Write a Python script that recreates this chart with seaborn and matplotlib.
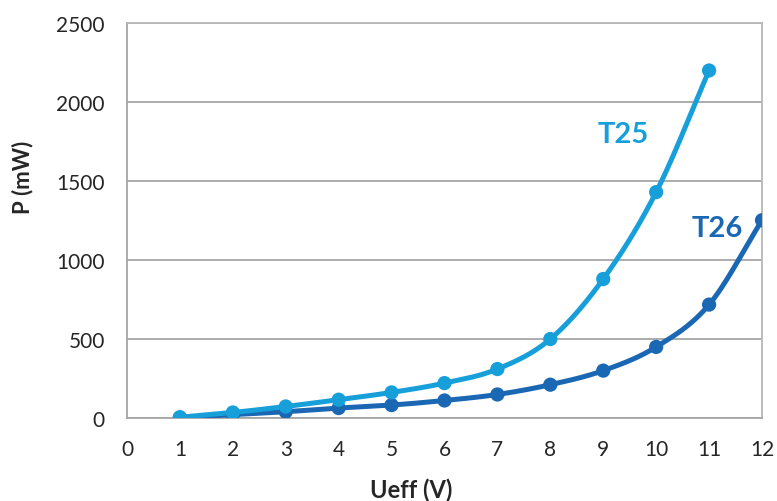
import matplotlib
matplotlib.use("Agg")
import matplotlib.pyplot as plt
import numpy as np
import pandas as pd
import seaborn as sns

# data
ueff_t25 = [1, 2, 3, 4, 5, 6, 7, 8, 9, 10, 11]
p_t25 = [5, 35, 73, 116, 162, 221, 310, 500, 880, 1430, 2200]
ueff_t26 = [1, 2, 3, 4, 5, 6, 7, 8, 9, 10, 11, 12]
p_t26 = [3, 21, 40, 63, 82, 111, 149, 211, 300, 450, 718, 1252]

c25 = "#179fda"
c26 = "#1a67b3"
grid_c = "#a6a6a6"
text_c = "#262626"


def smooth(x, y, n=30):
    # Catmull-Rom curve through the points, like Excel's smoothed line
    x = np.asarray(x, float)
    y = np.asarray(y, float)
    px = np.concatenate([[2 * x[0] - x[1]], x, [2 * x[-1] - x[-2]]])
    py = np.concatenate([[2 * y[0] - y[1]], y, [2 * y[-1] - y[-2]]])
    t = np.linspace(0, 1, n)
    xs, ys = [], []
    for i in range(1, len(px) - 2):
        for arr, out in ((px, xs), (py, ys)):
            p0, p1, p2, p3 = arr[i - 1], arr[i], arr[i + 1], arr[i + 2]
            out.append(0.5 * (2 * p1 + (-p0 + p2) * t
                              + (2 * p0 - 5 * p1 + 4 * p2 - p3) * t ** 2
                              + (-p0 + 3 * p1 - 3 * p2 + p3) * t ** 3))
    return np.concatenate(xs), np.concatenate(ys)


sns.set_theme(style="white")
plt.rcParams["font.family"] = ["Lato", "DejaVu Sans"]

fig = plt.figure(figsize=(7.77, 5.02), dpi=100)
ax = fig.add_axes([0.1634, 0.1653, 0.8173, 0.7867])

ax.yaxis.grid(True, color=grid_c, linewidth=1.3)
ax.set_axisbelow(True)

for xv, yv, col in ((ueff_t26, p_t26, c26), (ueff_t25, p_t25, c25)):
    sx, sy = smooth(xv, yv)
    ax.plot(sx, sy, color=col, linewidth=3.6, solid_capstyle="round", zorder=3)
    df = pd.DataFrame({"Ueff": xv, "P": yv})
    sns.scatterplot(data=df, x="Ueff", y="P", color=col, s=105,
                    edgecolor="none", ax=ax, zorder=4)

ax.text(9.38, 1800, "T25", color=c25, fontsize=21, fontweight="bold",
        ha="center", va="center")
ax.text(11.15, 1200, "T26", color=c26, fontsize=21, fontweight="bold",
        ha="center", va="center")

ax.set_xlim(0, 12)
ax.set_ylim(0, 2500)
ax.set_xticks(range(0, 13))
ax.set_yticks(range(0, 2501, 500))
ax.tick_params(axis="both", labelsize=15, colors=text_c, length=6,
               width=1.3, direction="out")
ax.tick_params(axis="x", pad=9)
ax.tick_params(axis="y", pad=10)
ax.tick_params(axis="both", color=grid_c)
for side in ("top", "right"):
    ax.spines[side].set_color("#b8b8b8")
    ax.spines[side].set_linewidth(1.3)
for side in ("left", "bottom"):
    ax.spines[side].set_color(grid_c)
    ax.spines[side].set_linewidth(1.3)

# axis titles sit off-centre in the reference, so place them explicitly
ax.set_xlabel("Ueff (V)", fontsize=17, fontweight="bold", color=text_c,
              va="center")
ax.set_ylabel("P (mW)", fontsize=16, fontweight="bold", color=text_c,
              va="center")
ax.xaxis.set_label_coords(0.447, -0.18)
ax.yaxis.set_label_coords(-0.165, 0.613)

fig.savefig("out.png", dpi=100)
